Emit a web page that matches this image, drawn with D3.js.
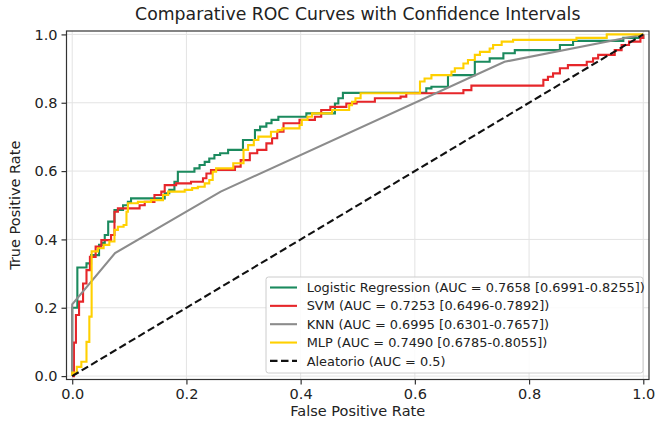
<!DOCTYPE html>
<html>
<head>
<meta charset="utf-8">
<script src="https://cdn.jsdelivr.net/npm/d3@7"></script>
<style>
  html, body { margin: 0; padding: 0; background: #fff; }
  svg { display: block; font-family: "DejaVu Sans", sans-serif; }
</style>
</head>
<body>
<svg id="chart" width="655" height="428"></svg>
<script>
// ---- Data (points where each step curve rises: [FPR, TPR]) ----
const lrPoints = [[0,0],[0,0.2],[0.009,0.318],[0.025,0.33],[0.033,0.354],[0.047,0.384],[0.053,0.39],[0.057,0.413],[0.063,0.452],[0.074,0.486],[0.089,0.50],[0.0975,0.51],[0.103,0.52],[0.162,0.535],[0.170,0.545],[0.179,0.569],[0.185,0.598],[0.214,0.608],[0.223,0.618],[0.232,0.627],[0.240,0.637],[0.249,0.647],[0.259,0.652],[0.273,0.662],[0.299,0.691],[0.320,0.720],[0.329,0.730],[0.340,0.740],[0.349,0.750],[0.361,0.759],[0.410,0.769],[0.460,0.798],[0.466,0.813],[0.474,0.829],[0.620,0.842],[0.629,0.847],[0.658,0.881],[0.705,0.920],[0.731,0.930],[0.755,0.945],[0.775,0.954],[0.854,0.969],[0.877,0.981],[0.965,0.990],[1,1]];
const svmPoints = [[0,0],[0.003,0.098],[0.0065,0.179],[0.012,0.218],[0.019,0.271],[0.025,0.31],[0.031,0.349],[0.041,0.379],[0.051,0.398],[0.068,0.413],[0.074,0.481],[0.080,0.491],[0.118,0.50],[0.127,0.51],[0.144,0.530],[0.156,0.540],[0.162,0.559],[0.182,0.564],[0.208,0.569],[0.229,0.579],[0.235,0.593],[0.243,0.603],[0.285,0.613],[0.295,0.632],[0.311,0.652],[0.324,0.662],[0.340,0.681],[0.350,0.696],[0.359,0.715],[0.370,0.740],[0.398,0.750],[0.425,0.759],[0.436,0.779],[0.452,0.788],[0.480,0.798],[0.498,0.803],[0.530,0.813],[0.575,0.818],[0.585,0.828],[0.685,0.837],[0.699,0.850],[0.825,0.867],[0.833,0.876],[0.842,0.886],[0.854,0.901],[0.868,0.910],[0.901,0.920],[0.912,0.930],[0.921,0.940],[0.950,0.954],[0.962,0.969],[0.975,0.979],[0.995,0.990],[1,1]];
const knnPoints = [[0,0],[0,0.21],[0.075,0.36],[0.26,0.54],[0.757,0.92],[1,1]];
const mlpPoints = [[0,0],[0,0.01],[0.008,0.027],[0.016,0.042],[0.025,0.10],[0.030,0.174],[0.034,0.365],[0.045,0.374],[0.055,0.384],[0.065,0.394],[0.074,0.428],[0.080,0.437],[0.090,0.442],[0.095,0.481],[0.0975,0.506],[0.115,0.51],[0.138,0.515],[0.159,0.530],[0.168,0.540],[0.197,0.545],[0.210,0.550],[0.220,0.554],[0.232,0.564],[0.240,0.574],[0.246,0.598],[0.252,0.608],[0.282,0.623],[0.300,0.662],[0.308,0.676],[0.318,0.691],[0.326,0.701],[0.348,0.715],[0.360,0.720],[0.368,0.725],[0.398,0.735],[0.402,0.750],[0.412,0.759],[0.420,0.769],[0.455,0.779],[0.485,0.793],[0.490,0.803],[0.496,0.813],[0.505,0.828],[0.609,0.862],[0.617,0.871],[0.629,0.881],[0.664,0.891],[0.670,0.901],[0.685,0.915],[0.693,0.925],[0.705,0.940],[0.714,0.949],[0.731,0.959],[0.737,0.969],[0.752,0.979],[0.772,0.984],[0.883,0.990],[0.936,1.0],[1,1]];
const randomPoints = [[0,0],[1,1]];

const seriesNames = ["Logistic Regression", "SVM", "KNN", "MLP"];
const aucValues = ["0.7658", "0.7253", "0.6995", "0.7490"];
const ciLow = ["0.6991", "0.6496", "0.6301", "0.6785"];
const ciHigh = ["0.8255", "0.7892", "0.7657", "0.8055"];
const randomLabel = "Aleatorio (AUC = 0.5)";
const tickValues = [0, 0.2, 0.4, 0.6, 0.8, 1.0];

// ---- Styling / layout ----
const colors = ["#1b8a5e", "#e6262a", "#8c8c8c", "#ffd000"];
const pL = 66.5, pR = 649, pT = 31, pB = 379.5;

const svg = d3.select("#chart");
const x = d3.scaleLinear().domain([-0.01, 1.01]).range([pL, pR]);
const y = d3.scaleLinear().domain([-0.01, 1.01]).range([pB, pT]);

// grid
const grid = svg.append("g");
grid.selectAll(".gx").data(tickValues).enter().append("line")
  .attr("x1", d => x(d)).attr("x2", d => x(d)).attr("y1", pT).attr("y2", pB)
  .attr("stroke", "#e3e3e3").attr("stroke-width", 1);
grid.selectAll(".gy").data(tickValues).enter().append("line")
  .attr("y1", d => y(d)).attr("y2", d => y(d)).attr("x1", pL).attr("x2", pR)
  .attr("stroke", "#e3e3e3").attr("stroke-width", 1);

// curves
const stepLine = d3.line().x(d => x(d[0])).y(d => y(d[1])).curve(d3.curveStepAfter);
const linLine = d3.line().x(d => x(d[0])).y(d => y(d[1]));
const curves = [
  {pts: lrPoints, gen: stepLine},
  {pts: svmPoints, gen: stepLine},
  {pts: knnPoints, gen: linLine},
  {pts: mlpPoints, gen: stepLine}
];
const plot = svg.append("g");
curves.forEach((c, i) => {
  plot.append("path").attr("d", c.gen(c.pts))
    .attr("fill", "none").attr("stroke", colors[i]).attr("stroke-width", 2.1)
    .attr("stroke-linejoin", "miter");
});
plot.append("path").attr("d", linLine(randomPoints))
  .attr("fill", "none").attr("stroke", "#111").attr("stroke-width", 2.1)
  .attr("stroke-dasharray", "7.5,3.5");

// axes
const fmt = d3.format(".1f");
const xAxis = svg.append("g").attr("transform", `translate(0,${pB})`)
  .call(d3.axisBottom(x).tickValues(tickValues).tickFormat(fmt).tickSize(5).tickPadding(4));
const yAxis = svg.append("g").attr("transform", `translate(${pL},0)`)
  .call(d3.axisLeft(y).tickValues(tickValues).tickFormat(fmt).tickSize(5).tickPadding(4));
[xAxis, yAxis].forEach(a => {
  a.select(".domain").remove();
  a.selectAll(".tick line").attr("stroke", "#333").attr("stroke-width", 1.2);
  a.selectAll(".tick text").attr("fill", "#222").style("font-size", "14.5px")
    .style("font-family", "DejaVu Sans, sans-serif");
});

// frame
svg.append("rect").attr("x", pL).attr("y", pT)
  .attr("width", pR - pL).attr("height", pB - pT)
  .attr("fill", "none").attr("stroke", "#333").attr("stroke-width", 1.2);

// title and labels
svg.append("text").attr("x", (pL + pR) / 2).attr("y", 20)
  .attr("text-anchor", "middle").style("font-size", "17.3px").attr("fill", "#222")
  .text("Comparative ROC Curves with Confidence Intervals");
svg.append("text").attr("x", (pL + pR) / 2).attr("y", 416)
  .attr("text-anchor", "middle").style("font-size", "14.5px").attr("fill", "#222")
  .text("False Positive Rate");
svg.append("text").attr("transform", `translate(20,${(pT + pB) / 2}) rotate(-90)`)
  .attr("text-anchor", "middle").style("font-size", "14.5px").attr("fill", "#222")
  .text("True Positive Rate");

// legend
const legX = 266, legY = 277, legW = 377, legH = 96;
const lg = svg.append("g");
lg.append("rect").attr("x", legX).attr("y", legY).attr("width", legW).attr("height", legH)
  .attr("rx", 2.5).attr("fill", "#fff").attr("fill-opacity", 0.85)
  .attr("stroke", "#cccccc").attr("stroke-width", 1);
const legendItems = seriesNames.map((n, i) => ({
  label: `${n} (AUC = ${aucValues[i]} [${ciLow[i]}-${ciHigh[i]}])`, color: colors[i], dash: null
}));
legendItems.push({label: randomLabel, color: "#111", dash: "7.5,3.5"});
const rowY0 = 287.5, rowStep = 18.35;
legendItems.forEach((it, i) => {
  const ry = rowY0 + i * rowStep;
  const ln = lg.append("line").attr("x1", 270).attr("x2", 297).attr("y1", ry).attr("y2", ry)
    .attr("stroke", it.color).attr("stroke-width", 2.1);
  if (it.dash) ln.attr("stroke-dasharray", it.dash);
  lg.append("text").attr("x", 306.7).attr("y", ry).attr("dy", "0.36em")
    .style("font-size", "12.9px").attr("fill", "#222").text(it.label);
});
</script>
</body>
</html>
